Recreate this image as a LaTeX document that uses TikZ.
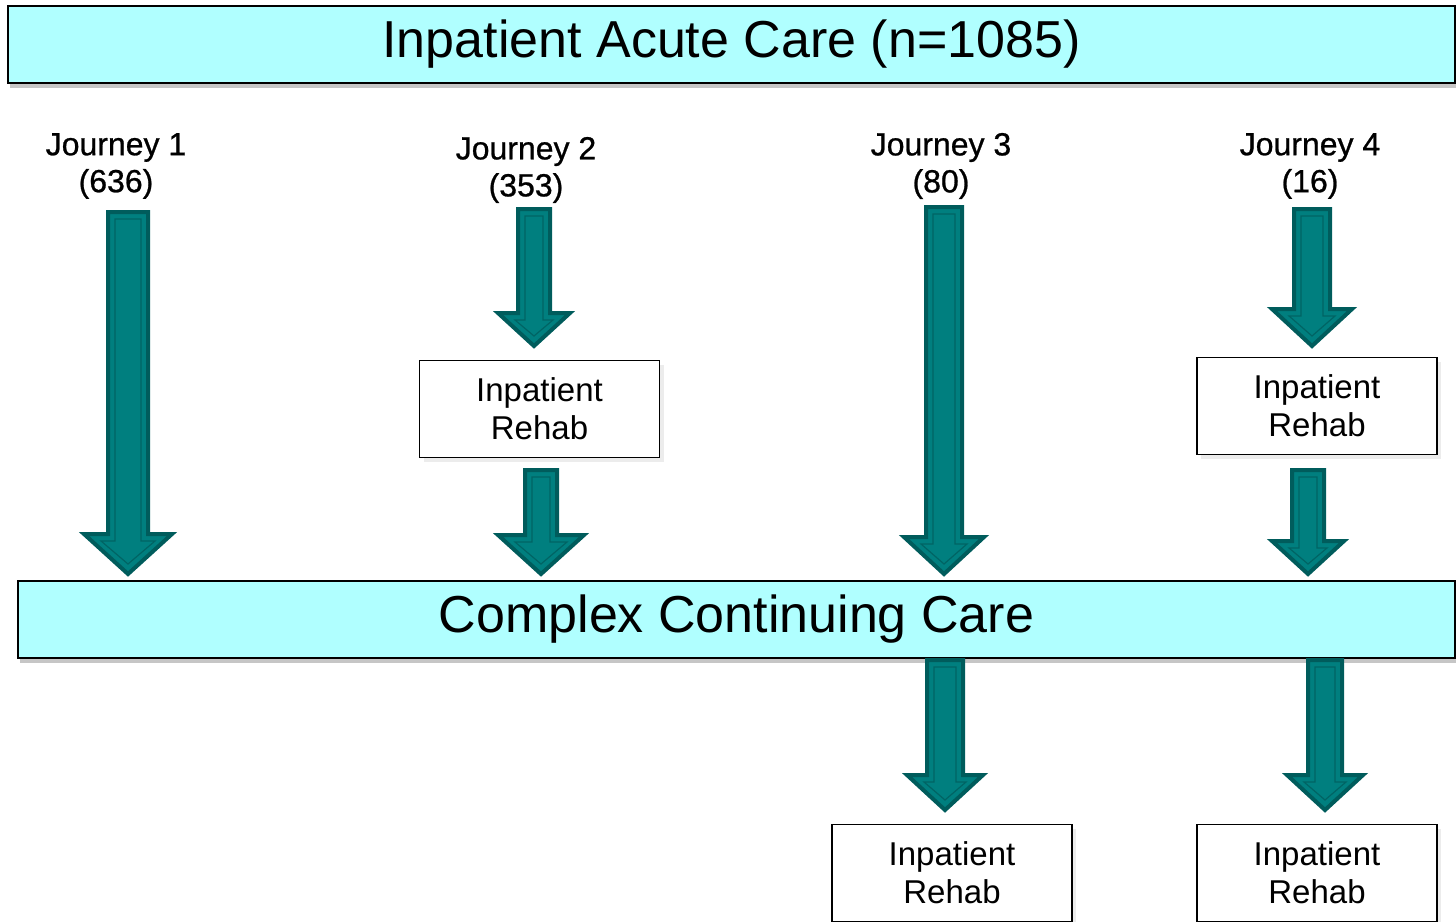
\documentclass[tikz,border=0pt]{standalone}
\usepackage{fontspec}
\setmainfont{Liberation Sans}
\newfontfamily\journeyfont[FakeBold=0.8]{Liberation Sans}
\usetikzlibrary{calc,shadows}

\definecolor{boxcyan}{HTML}{B0FFFF}
\definecolor{arrowteal}{HTML}{007F7F}
\definecolor{arrowdark}{HTML}{005C5C}
\definecolor{arrowline}{HTML}{006464}

% fat block arrow: from, to, half shaft, half head, head length
\newcommand{\fatarrow}[5]{%
  \path[fill=arrowteal, draw=arrowdark, line width=4pt, line join=miter]
    let \p1=(#1), \p2=(#2) in
    (\x1-#3pt,\y1) -- (\x1+#3pt,\y1) -- (\x1+#3pt,\y2+#5pt) -- (\x1+#4pt,\y2+#5pt)
    -- (\x1,\y2) -- (\x1-#4pt,\y2+#5pt) -- (\x1-#3pt,\y2+#5pt) -- cycle;
  \path[draw=arrowline, line width=1.2pt, line join=miter]
    let \p1=(#1), \p2=(#2) in
    (\x1-#3pt+7pt,\y1-7pt) -- (\x1+#3pt-7pt,\y1-7pt) -- (\x1+#3pt-7pt,\y2+#5pt-7pt)
    -- (\x1+#4pt-17pt,\y2+#5pt-7pt) -- (\x1,\y2+10pt) -- (\x1-#4pt+17pt,\y2+#5pt-7pt)
    -- (\x1-#3pt+7pt,\y2+#5pt-7pt) -- cycle;
}

\begin{document}
\begin{tikzpicture}[x=1pt,y=-1pt,
    bandbox/.style={draw=black, line width=2pt, fill=boxcyan, inner sep=0pt,
      minimum height=77pt, font=\fontsize{52}{60}\selectfont,
      drop shadow={shadow xshift=2pt, shadow yshift=-5pt, opacity=0.45}},
    rehabbox/.style={draw=black, line width=1.5pt, fill=white, inner sep=0pt,
      minimum width=240pt, minimum height=97pt, align=center,
      font=\fontsize{33}{38}\selectfont,
      drop shadow={shadow xshift=4pt, shadow yshift=-4pt, opacity=0.15}},
    journey/.style={align=center, font=\journeyfont\fontsize{32}{37}\selectfont}]
  \clip (0,0) rectangle (1456,921);

  \node[bandbox, minimum width=1447pt] (acute) at (731.5,44.5) {Inpatient Acute Care (n=1085)};
  \node[bandbox, minimum width=1437pt] (ccc) at (736.5,619.5) {Complex Continuing Care};

  \node[journey] (j1) at (116,166) {Journey 1\\(636)};
  \node[journey] (j2) at (526,170) {Journey 2\\(353)};
  \node[journey] (j3) at (941,166) {Journey 3\\(80)};
  \node[journey] (j4) at (1310,166) {Journey 4\\(16)};

  \node[rehabbox] (rehab2) at (539.5,409) {Inpatient\\Rehab};
  \node[rehabbox] (rehab4) at (1317,406) {Inpatient\\Rehab};
  \node[rehabbox] (rehab3b) at (952,873) {Inpatient\\Rehab};
  \node[rehabbox] (rehab4b) at (1317,873) {Inpatient\\Rehab};

  % arrow ends
  \coordinate (a1s) at (128,212);   \coordinate (a1e) at (128,574);
  \coordinate (a2s) at (534,209);   \coordinate (a2e) at (534,346);
  \coordinate (a2bs) at (541,470);  \coordinate (a2be) at (541,574);
  \coordinate (a3s) at (944,207);   \coordinate (a3e) at (944,574);
  \coordinate (a4s) at (1312,209);  \coordinate (a4e) at (1312,346);
  \coordinate (a4bs) at (1308,470); \coordinate (a4be) at (1308,574);
  \coordinate (a3cs) at (945,660);  \coordinate (a3ce) at (945,810);
  \coordinate (a4cs) at (1325,660); \coordinate (a4ce) at (1325,810);

  \fatarrow{a1s}{a1e}{20}{44}{40}
  \fatarrow{a2s}{a2e}{16}{36}{33}
  \fatarrow{a2bs}{a2be}{16}{43}{39}
  \fatarrow{a3s}{a3e}{18}{40}{37}
  \fatarrow{a4s}{a4e}{18}{40}{37}
  \fatarrow{a4bs}{a4be}{16}{36}{33}
  \fatarrow{a3cs}{a3ce}{18}{38}{35}
  \fatarrow{a4cs}{a4ce}{17}{38}{35}
\end{tikzpicture}
\end{document}
